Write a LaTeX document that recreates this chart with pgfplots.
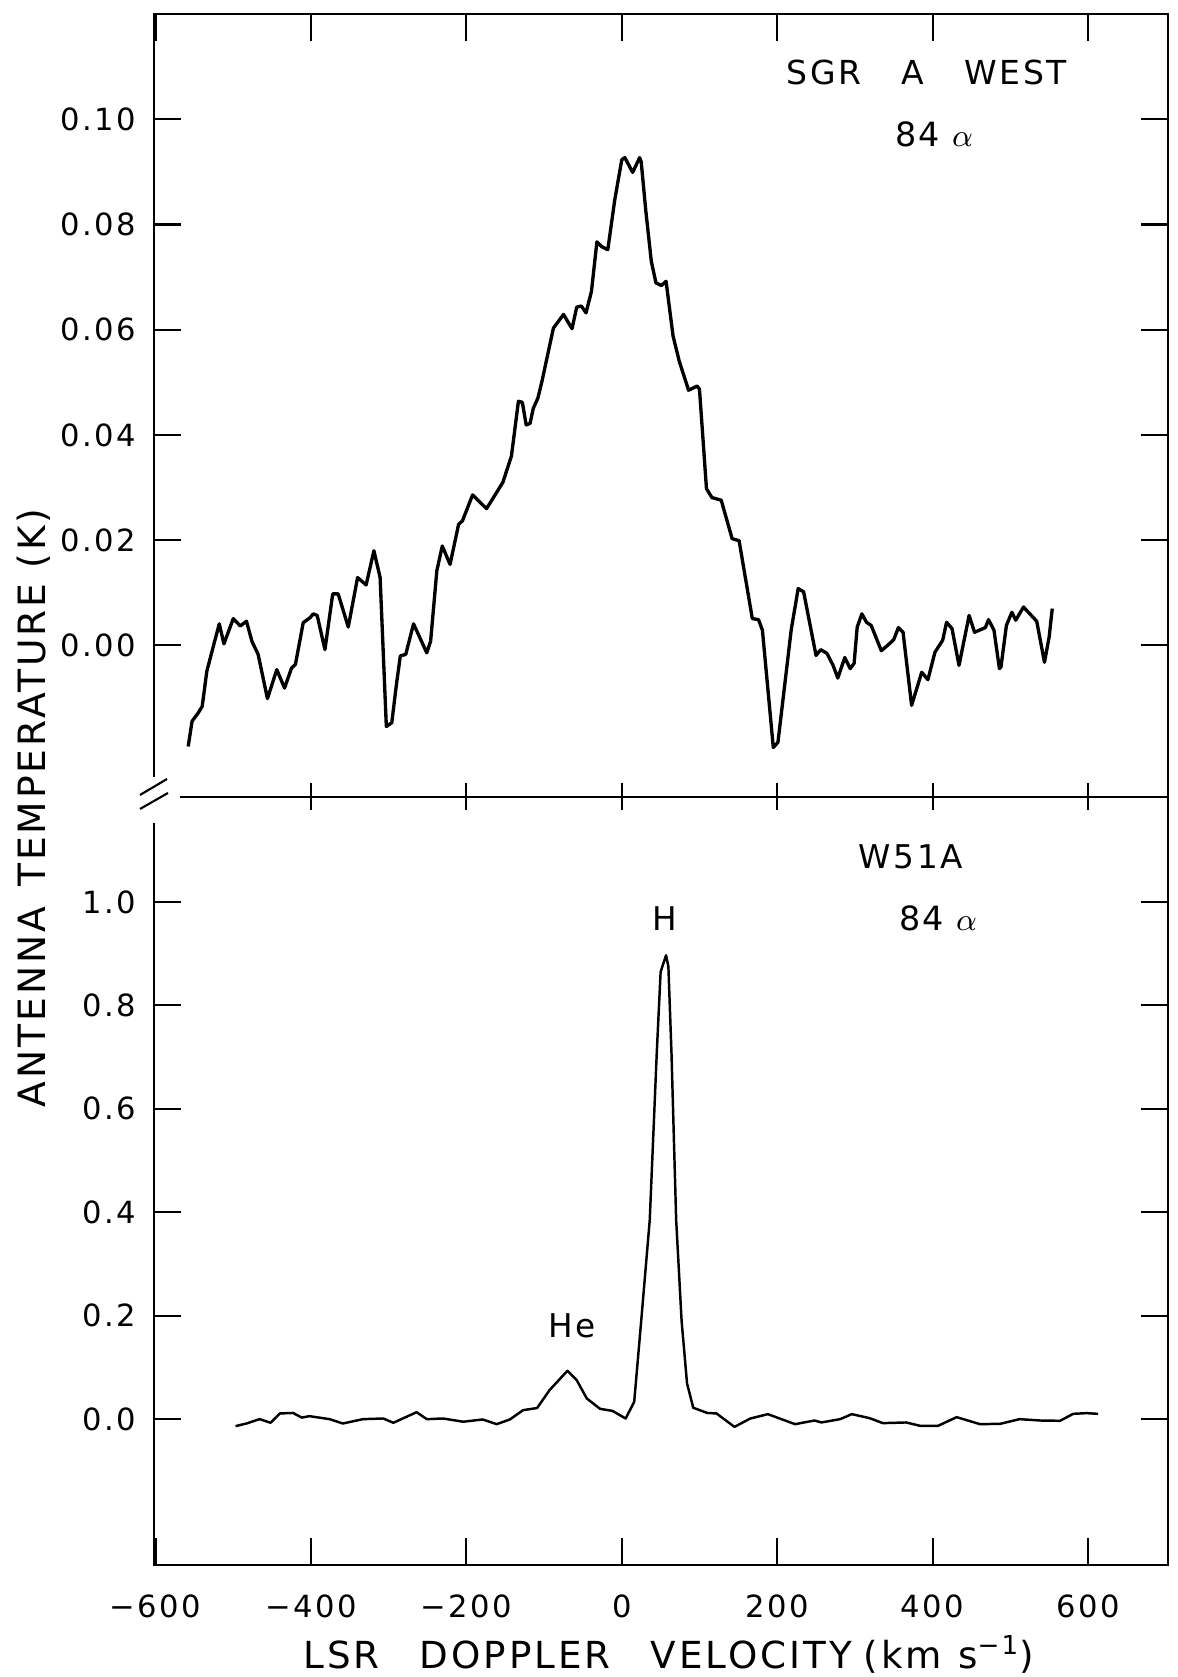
\documentclass[border=0pt]{standalone}
\usepackage{fontspec}
\setmainfont{DejaVu Sans}
\newfontfamily\tickfont[LetterSpace=8]{DejaVu Sans}
\newfontfamily\labfont[LetterSpace=8]{DejaVu Sans}
\usepackage{pgfplots}
\usepackage{pgfplotstable}
\pgfplotsset{compat=1.18}

\pgfplotstableread{
x y
-558 -0.0192
-553 -0.0144
-545 -0.0128
-540 -0.0116
-534 -0.0049
-525 0.0002
-518 0.0041
-512 0.0003
-500 0.0051
-491 0.0037
-483 0.0046
-476 0.0008
-468 -0.0017
-456 -0.0101
-444 -0.0046
-434 -0.0081
-425 -0.0043
-420 -0.0036
-410 0.0043
-401 0.0053
-397 0.0060
-392 0.0057
-382 -0.0008
-372 0.0098
-365 0.0098
-352 0.0035
-340 0.0129
-329 0.0115
-319 0.0180
-311 0.0129
-303 -0.0154
-296 -0.0147
-290 -0.0074
-285 -0.0020
-278 -0.0017
-268 0.0041
-251 -0.0014
-246 0.0008
-238 0.0142
-231 0.0189
-221 0.0154
-210 0.0230
-205 0.0237
-192 0.0286
-174 0.0260
-153 0.0310
-142 0.0360
-133 0.0464
-128 0.0462
-123 0.0419
-118 0.0422
-114 0.0450
-108 0.0470
-103 0.0500
-88 0.0603
-75 0.0629
-64 0.0602
-58 0.0643
-52 0.0645
-46 0.0632
-39 0.0673
-32 0.0767
-26 0.0758
-18 0.0752
-9 0.0847
0 0.0923
4 0.0927
14 0.0899
23 0.0927
25 0.0919
31 0.0825
38 0.0730
44 0.0689
51 0.0684
57 0.0692
66 0.0588
74 0.0540
86 0.0485
97 0.0493
100 0.0487
109 0.0298
116 0.0281
128 0.0276
142 0.0203
151 0.0199
168 0.0051
176 0.0049
181 0.0029
195 -0.0194
201 -0.0184
218 0.0029
227 0.0108
234 0.0102
250 -0.0019
256 -0.0008
264 -0.0015
272 -0.0038
278 -0.0062
287 -0.0023
294 -0.0044
299 -0.0034
303 0.0035
309 0.0060
315 0.0044
321 0.0038
334 -0.0010
342 0.0000
350 0.0011
356 0.0034
362 0.0025
373 -0.0114
386 -0.0051
394 -0.0065
403 -0.0013
413 0.0010
418 0.0044
425 0.0032
434 -0.0038
447 0.0057
454 0.0025
468 0.0034
472 0.0049
479 0.0029
486 -0.0044
488 -0.0041
495 0.0038
502 0.0063
507 0.0048
517 0.0073
534 0.0046
544 -0.0032
550 0.0016
554 0.0070
}\sgrdata

\pgfplotstableread{
x y
-497 -0.0135
-483 -0.0084
-466 0.0000
-452 -0.0070
-440 0.0110
-423 0.0120
-412 0.0030
-402 0.0058
-376 0.0000
-359 -0.0084
-333 0.0000
-307 0.0013
-294 -0.0070
-264 0.0135
-251 0.0000
-230 0.0013
-204 -0.0050
-179 -0.0006
-161 -0.0097
-144 -0.0006
-127 0.0174
-109 0.0215
-93 0.0560
-70 0.0935
-58 0.0754
-45 0.0400
-28 0.0200
-12 0.0160
5 0.0013
16 0.0335
25 0.190
36 0.385
45 0.707
50 0.865
57 0.897
60 0.875
64 0.707
70 0.385
77 0.190
84 0.069
92 0.022
110 0.012
122 0.011
145 -0.015
165 0.001
188 0.0097
223 -0.0097
248 -0.0026
257 -0.0064
281 0.0000
296 0.0097
319 0.0019
336 -0.0077
366 -0.0064
384 -0.0129
407 -0.0129
431 0.0039
461 -0.0097
487 -0.0090
512 0.0000
538 -0.0026
564 -0.0032
581 0.0103
598 0.0116
613 0.0103
}\wdata

\begin{document}
\begin{tikzpicture}
\useasboundingbox (0mm,0mm) rectangle (117.7mm,167.7mm);
\pgfplotsset{
  common/.style={
    scale only axis, width=101.4mm,
    xmin=-602, xmax=703,
    axis line style={line width=0.6pt},
    every tick/.style={line width=0.6pt, black},
    major tick length=2.7mm, tick align=inside,
    xtick={-600,-400,-200,0,200,400,600},
    tick label style={font=\tickfont\fontsize{8.7pt}{10pt}\selectfont},
    yticklabel style={inner sep=0pt, xshift=-1.7mm},
    xticklabel style={inner sep=0pt, anchor=north, yshift=-2.9mm},
    ytick pos=both,
  }
}
% top panel
\begin{axis}[common, at={(15.4mm,88mm)}, anchor=south west, height=78.3mm,
  ymin=-0.0288, ymax=0.12, xtick pos=upper, xticklabel=\empty,
  ytick={0,0.02,0.04,0.06,0.08,0.1},
  yticklabels={0.00,0.02,0.04,0.06,0.08,0.10}]
\addplot[black, line width=0.95pt, line join=round] table[x=x,y=y]{\sgrdata};
\end{axis}
% bottom panel
\begin{axis}[common, at={(15.4mm,11.2mm)}, anchor=south west, height=76.8mm,
  ymin=-0.282, ymax=1.203, xtick pos=lower,
  xticklabels={−600,−400,−200,0,200,400,600},
  ytick={0,0.2,0.4,0.6,0.8,1.0},
  yticklabels={0.0,0.2,0.4,0.6,0.8,1.0}]
\addplot[black, line width=0.7pt, line join=round] table[x=x,y=y]{\wdata};
\end{axis}
% crossing ticks on the break line
\begin{axis}[at={(15.4mm,11.2mm)}, anchor=south west, scale only axis,
  width=101.4mm, height=76.8mm, xmin=-602, xmax=703, ymin=0, ymax=1,
  hide y axis, axis line style={line width=0.6pt},
  every tick/.style={line width=0.6pt, black},
  xtick={-400,-200,0,200,400,600}, xtick pos=upper, xticklabel=\empty,
  tick align=center, major tick length=2.7mm]
\end{axis}
% axis break
\fill[white] (14.4mm,85.4mm) rectangle (18.0mm,90.0mm);
\draw[line width=0.6pt] (14.0mm,88.2mm) -- (16.7mm,89.8mm);
\draw[line width=0.6pt] (14.0mm,86.8mm) -- (16.8mm,88.4mm);
% labels
\node[anchor=base, inner sep=0pt, font=\labfont\fontsize{9.4pt}{11pt}\selectfont] at (92.7mm,159.2mm) {SGR\hspace{4.0mm}A\hspace{4.0mm}WEST};
\node[anchor=base, inner sep=0pt, font=\labfont\fontsize{9.5pt}{11pt}\selectfont] at (93.4mm,153.0mm) {84\hspace{1.2mm}$\alpha$};
\node[anchor=base, inner sep=0pt, font=\labfont\fontsize{9.3pt}{11pt}\selectfont] at (91.1mm,80.8mm) {W51A};
\node[anchor=base, inner sep=0pt, font=\labfont\fontsize{9.5pt}{11pt}\selectfont] at (93.8mm,74.6mm) {84\hspace{1.2mm}$\alpha$};
\node[anchor=base, inner sep=0pt, font=\labfont\fontsize{9.3pt}{11pt}\selectfont] at (66.5mm,74.6mm) {H};
\node[anchor=base, inner sep=0pt, font=\labfont\fontsize{9.3pt}{11pt}\selectfont] at (57.2mm,33.9mm) {He};
\node[anchor=base, inner sep=0pt, rotate=90, font=\labfont\fontsize{10.7pt}{12pt}\selectfont] at (4.5mm,86.9mm) {ANTENNA\hspace{2mm}TEMPERATURE\hspace{1.5mm}(K)};
\node[anchor=base, inner sep=0pt, font=\labfont\fontsize{10.6pt}{12pt}\selectfont] at (66.9mm,0.9mm) {LSR\hspace{4.0mm}DOPPLER\hspace{4.0mm}VELOCITY\hspace{1.2mm}({\tickfont km\hspace{1.6mm}s\textsuperscript{−1}})};
\end{tikzpicture}
\end{document}
